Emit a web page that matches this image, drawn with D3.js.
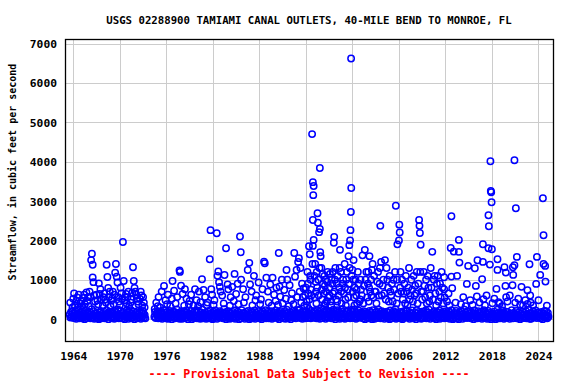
<!DOCTYPE html>
<html><head><meta charset="utf-8">
<script src="https://cdn.jsdelivr.net/npm/d3@7/dist/d3.min.js"></script>
<style>
body{margin:0;background:#fff;}
svg{display:block;}
text{font-family:"DejaVu Sans Mono",monospace;font-weight:bold;}
</style></head>
<body><svg id="c" width="576" height="384"></svg>
<script>
const titleText = "USGS 02288900 TAMIAMI CANAL OUTLETS, 40-MILE BEND TO MONROE, FL";
const yLabel = "Streamflow, in cubic feet per second";
const footText = "---- Provisional Data Subject to Revision ----";
const xTickYears = [1964,1970,1976,1982,1988,1994,2000,2006,2012,2018,2024];
const yTickValues = [0,1000,2000,3000,4000,5000,6000,7000];

// Routine (roughly monthly) low-flow measurements, cfs; rows = years, columns = Jan..Dec
const baseYears = [1963,1964,1965,1966,1967,1968,1969,1970,1971,1972,1973,1974,1975,1976,1977,1978,1979,1980,1981,1982,1983,1984,1985,1986,1987,1988,1989,1990,1991,1992,1993,1994,1995,1996,1997,1998,1999,2000,2001,2002,2003,2004,2005,2006,2007,2008,2009,2010,2011,2012,2013,2014,2015,2016,2017,2018,2019,2020,2021,2022,2023,2024,2025];
const baseFlow = [
[null,null,null,null,null,null,120,40,180,60,210,90],
[30,150,80,200,10,120,60,240,100,20,170,70],
[110,20,190,50,140,0,220,80,30,160,60,130],
[60,180,20,120,250,40,90,200,10,150,80,30],
[140,30,100,0,170,60,210,20,130,90,40,190],
[20,120,60,230,80,150,0,110,190,50,160,30],
[170,50,140,10,200,90,30,160,70,240,20,100],
[40,210,90,150,20,180,60,0,130,80,220,50],
[120,10,180,60,100,230,30,140,50,190,0,90],
[70,160,20,200,120,40,170,80,10,150,60,210],
[150,40,110,20,null,null,null,null,null,null,null,null],
[null,null,null,null,null,60,180,30,140,90,200,20],
[100,30,190,60,150,10,120,230,50,170,80,20],
[50,170,10,130,80,210,40,150,0,110,190,60],
[180,20,120,70,240,30,160,90,10,140,50,200],
[10,140,60,190,30,110,220,50,170,0,130,80],
[130,60,210,0,150,80,30,180,100,40,230,20],
[60,200,30,120,10,170,90,240,20,140,60,110],
[160,10,100,50,190,20,130,70,210,30,150,0],
[30,180,80,220,60,140,10,110,170,50,200,90],
[110,40,170,20,130,250,60,150,0,190,80,30],
[200,70,10,150,90,30,180,40,120,220,10,140],
[40,130,190,60,0,160,100,20,230,70,150,50],
[150,10,90,180,40,120,210,60,0,140,30,190],
[20,170,50,130,220,10,80,160,110,30,200,70],
[90,30,160,0,110,190,40,140,60,230,20,120],
[180,60,20,150,80,40,200,10,130,90,170,50],
[50,220,110,30,170,60,0,150,90,200,40,130],
[140,20,180,70,10,130,240,50,160,30,110,80],
[0,160,60,210,120,40,90,190,20,140,70,230],
[120,50,240,30,160,80,10,200,110,60,180,20],
[70,190,30,140,260,50,120,20,210,90,160,40],
[200,40,150,80,20,230,100,60,180,10,130,270],
[30,140,90,250,50,170,10,220,70,120,40,190],
[160,60,200,20,130,80,240,40,150,0,210,100],
[80,230,40,170,10,120,190,60,260,30,140,50],
[10,120,180,60,220,40,90,150,20,200,70,240],
[190,30,110,240,70,10,160,50,130,220,40,90],
[40,170,60,140,20,200,110,0,180,80,150,30],
[130,20,210,90,160,40,0,230,60,120,10,170],
[60,190,30,120,240,80,150,20,100,200,40,140],
[170,10,140,50,100,190,30,160,70,0,220,90],
[20,150,90,200,40,130,250,10,170,60,110,30],
[110,60,180,20,150,0,90,200,40,130,70,230],
[200,40,120,70,10,170,50,140,220,20,100,60],
[50,160,0,230,90,40,180,110,30,150,10,190],
[140,30,190,60,130,220,20,80,170,50,240,100],
[10,120,70,160,40,100,200,30,140,0,180,60],
[170,50,220,10,130,70,150,40,190,110,20,140],
[80,200,30,140,60,180,10,120,50,230,90,0],
[30,110,160,50,210,20,140,80,0,170,60,120],
[190,60,10,130,90,240,40,160,110,30,200,70],
[60,150,90,20,170,50,130,0,220,80,140,30],
[120,20,200,70,40,150,90,190,10,130,50,230],
[40,180,60,140,10,110,210,30,160,70,0,120],
[150,70,30,190,100,0,130,60,240,20,170,80],
[20,130,170,50,220,80,10,150,40,110,190,60],
[180,40,100,10,140,60,230,90,20,160,70,130],
[60,210,20,120,80,170,40,0,140,100,30,190],
[110,30,160,60,200,20,130,80,50,240,10,150],
[10,140,70,190,40,120,60,220,100,30,170,80],
[160,50,130,20,180,90,0,140,60,210,40,110],
[90,20,160,60,null,null,null,null,null,null,null,null]
];

// Higher measurements [decimal year, cfs]
const obs1963_1973 = [[1963.6,420],[1963.9,300],[1964.0,520],[1964.1,650],[1964.2,350],[1964.4,460],[1964.5,550],[1964.6,300],[1964.7,620],[1964.9,400],[1965.0,450],[1965.1,330],[1965.3,540],[1965.4,620],[1965.5,380],[1965.7,680],[1965.8,460],[1965.9,560],[1966.0,320],[1966.1,700],[1966.2,560],[1966.3,1500],[1966.4,1660],[1966.5,1380],[1966.5,1060],[1966.6,940],[1966.7,600],[1966.8,450],[1967.0,620],[1967.1,480],[1967.2,380],[1967.3,910],[1967.4,640],[1967.5,760],[1967.6,500],[1967.8,340],[1967.9,560],[1968.0,650],[1968.1,500],[1968.2,420],[1968.3,1380],[1968.4,1070],[1968.5,790],[1968.6,560],[1968.7,700],[1968.8,330],[1968.9,470],[1969.0,520],[1969.1,700],[1969.2,380],[1969.3,620],[1969.4,1180],[1969.5,1400],[1969.6,1080],[1969.7,930],[1969.8,560],[1969.9,450],[1970.0,360],[1970.1,800],[1970.2,650],[1970.3,520],[1970.4,1960],[1970.5,970],[1970.6,480],[1970.7,560],[1970.8,640],[1970.9,400],[1971.0,560],[1971.1,700],[1971.2,330],[1971.4,420],[1971.5,500],[1971.6,670],[1971.7,1320],[1971.8,970],[1971.9,790],[1972.0,700],[1972.1,620],[1972.2,520],[1972.3,450],[1972.4,380],[1972.6,515],[1972.7,700],[1972.8,600],[1972.9,340],[1973.0,560],[1973.1,420],[1973.2,300]];
const obs1974_1993 = [[1974.5,260],[1974.7,420],[1974.9,330],[1975.0,560],[1975.2,300],[1975.4,700],[1975.7,845],[1975.9,480],[1976.1,380],[1976.2,620],[1976.5,330],[1976.7,520],[1976.8,970],[1977.0,720],[1977.2,400],[1977.4,560],[1977.7,1240],[1977.75,1200],[1977.9,850],[1978.1,640],[1978.3,340],[1978.4,760],[1978.6,520],[1978.9,380],[1979.0,460],[1979.2,620],[1979.5,350],[1979.7,760],[1979.9,480],[1980.1,330],[1980.2,700],[1980.4,430],[1980.6,1015],[1980.8,740],[1981.0,560],[1981.2,360],[1981.3,420],[1981.6,1520],[1981.7,2260],[1981.8,760],[1981.9,620],[1982.1,360],[1982.2,480],[1982.5,2180],[1982.6,1100],[1982.7,1210],[1982.8,940],[1982.9,820],[1983.0,700],[1983.2,600],[1983.4,400],[1983.5,1120],[1983.7,1800],[1983.9,880],[1984.0,760],[1984.2,340],[1984.3,560],[1984.5,820],[1984.7,460],[1984.8,1150],[1985.0,640],[1985.2,900],[1985.3,380],[1985.5,2100],[1985.6,1700],[1985.65,1000],[1985.9,760],[1986.0,420],[1986.2,560],[1986.5,1250],[1986.7,1430],[1986.8,880],[1987.0,700],[1987.1,350],[1987.3,1100],[1987.5,480],[1987.6,600],[1987.9,930],[1988.1,380],[1988.2,500],[1988.4,760],[1988.6,1460],[1988.7,1420],[1988.9,1050],[1989.1,700],[1989.2,420],[1989.4,880],[1989.6,340],[1989.7,1050],[1989.9,620],[1990.1,460],[1990.2,800],[1990.4,360],[1990.5,1680],[1990.6,830],[1990.7,570],[1990.9,1000],[1991.0,400],[1991.2,740],[1991.4,520],[1991.5,1250],[1991.6,1000],[1991.8,330],[1991.9,860],[1992.1,480],[1992.2,660],[1992.4,380],[1992.5,1680],[1992.6,1080],[1992.8,1250],[1992.9,560],[1993.0,1450],[1993.1,1550],[1993.2,700],[1993.3,1300],[1993.4,420],[1993.5,900],[1993.6,560],[1993.7,780],[1993.8,340],[1993.9,600]];
const obs1994_2005 = [[1994.0,800],[1994.1,450],[1994.15,350],[1994.2,1200],[1994.25,900],[1994.3,650],[1994.4,1850],[1994.45,500],[1994.5,1650],[1994.55,1100],[1994.6,1000],[1994.65,750],[1994.7,600],[1994.8,4700],[1994.85,1400],[1994.9,3480],[1994.9,2520],[1994.95,3150],[1995.0,3380],[1995.0,2010],[1994.9,1860],[1995.1,1100],[1995.15,550],[1995.2,1400],[1995.25,950],[1995.3,700],[1995.35,400],[1995.4,1200],[1995.45,800],[1995.5,2690],[1995.55,2450],[1995.6,1000],[1995.65,600],[1995.7,2210],[1995.75,1300],[1995.8,3840],[1995.8,2290],[1995.85,1700],[1995.9,1600],[1996.0,1300],[1996.05,750],[1996.1,500],[1996.15,1150],[1996.2,900],[1996.3,650],[1996.35,350],[1996.4,1100],[1996.45,850],[1996.5,400],[1996.55,1000],[1996.6,700],[1996.7,450],[1996.75,950],[1996.8,1200],[1996.9,550],[1997.0,800],[1997.05,600],[1997.1,1150],[1997.2,450],[1997.25,350],[1997.3,1000],[1997.4,900],[1997.45,1200],[1997.5,650],[1997.6,1940],[1997.65,2090],[1997.7,700],[1997.75,1000],[1997.8,1300],[1997.9,500],[1998.0,900],[1998.05,450],[1998.1,1100],[1998.2,600],[1998.3,800],[1998.35,1300],[1998.4,1760],[1998.5,1200],[1998.55,700],[1998.6,400],[1998.7,900],[1998.8,1000],[1998.9,650],[1999.0,1400],[1999.05,800],[1999.1,500],[1999.15,350],[1999.2,1000],[1999.3,1200],[1999.4,750],[1999.45,550],[1999.5,1600],[1999.55,900],[1999.6,1880],[1999.65,1300],[1999.7,2000],[1999.75,2260],[1999.8,2720],[1999.85,3330],[1999.83,6620],[1999.9,1100],[2000.0,1250],[2000.05,700],[2000.1,1000],[2000.15,1500],[2000.2,550],[2000.25,350],[2000.3,800],[2000.4,1000],[2000.5,600],[2000.55,750],[2000.6,400],[2000.7,1200],[2000.8,900],[2000.9,450],[2001.0,500],[2001.05,1000],[2001.1,750],[2001.2,600],[2001.3,1620],[2001.4,400],[2001.5,850],[2001.6,1760],[2001.7,1000],[2001.8,1200],[2001.9,550],[2002.0,900],[2002.05,1200],[2002.1,450],[2002.15,800],[2002.2,1600],[2002.3,700],[2002.4,1000],[2002.45,600],[2002.5,1250],[2002.6,1400],[2002.7,550],[2002.8,1100],[2002.9,700],[2003.0,700],[2003.1,400],[2003.2,950],[2003.3,1200],[2003.4,600],[2003.5,900],[2003.55,1300],[2003.6,2370],[2003.7,1450],[2003.8,600],[2003.9,850],[2004.0,1000],[2004.1,650],[2004.2,1500],[2004.3,500],[2004.4,1300],[2004.5,1000],[2004.6,800],[2004.7,450],[2004.8,1100],[2004.9,700],[2005.0,600],[2005.1,900],[2005.2,450],[2005.3,1000],[2005.4,750],[2005.5,1200],[2005.6,2880],[2005.7,400],[2005.75,1000],[2005.8,1900],[2005.9,650]];
const obs2006_2025 = [[2006.0,2000],[2006.05,2400],[2006.1,2200],[2006.15,800],[2006.2,1200],[2006.3,700],[2006.4,1000],[2006.5,500],[2006.6,650],[2006.7,900],[2006.8,400],[2006.9,1100],[2007.0,700],[2007.1,350],[2007.2,800],[2007.3,1300],[2007.4,500],[2007.5,600],[2007.6,1000],[2007.7,750],[2007.8,450],[2007.9,1100],[2008.0,600],[2008.1,850],[2008.2,650],[2008.3,1200],[2008.4,400],[2008.5,900],[2008.6,2520],[2008.65,2370],[2008.7,2190],[2008.75,1200],[2008.8,1890],[2008.9,700],[2009.0,500],[2009.1,700],[2009.2,1200],[2009.3,850],[2009.4,550],[2009.5,1000],[2009.6,400],[2009.7,1100],[2009.8,800],[2009.9,450],[2010.0,600],[2010.1,1300],[2010.2,800],[2010.3,1710],[2010.4,500],[2010.5,1000],[2010.6,1100],[2010.7,650],[2010.8,350],[2010.9,900],[2011.0,1100],[2011.1,450],[2011.2,700],[2011.3,900],[2011.4,550],[2011.5,1200],[2011.6,800],[2011.7,400],[2011.83,1066],[2011.83,761],[2011.9,550],[2012.2,450],[2012.4,650],[2012.5,350],[2012.77,2614],[2012.68,1810],[2012.77,1081],[2012.87,787],[2013.07,1716],[2013.3,420],[2013.5,1099],[2013.73,2013],[2013.73,1708],[2013.8,1437],[2014.0,380],[2014.3,560],[2014.6,330],[2014.76,896],[2014.93,1353],[2015.2,480],[2015.5,360],[2015.79,1294],[2015.92,845],[2016.05,574],[2016.13,1497],[2016.4,420],[2016.73,1015],[2016.83,1454],[2016.83,1904],[2016.9,508],[2017.1,350],[2017.3,600],[2017.55,1802],[2017.55,2640],[2017.6,2360],[2017.73,1386],[2017.8,4010],[2017.85,3256],[2017.9,3223],[2017.95,2970],[2017.99,1777],[2018.06,406],[2018.3,520],[2018.58,769],[2018.71,1523],[2018.71,1251],[2018.84,431],[2019.0,400],[2019.3,330],[2019.61,1320],[2019.74,845],[2019.79,1183],[2019.83,558],[2020.0,450],[2020.3,600],[2020.65,863],[2020.7,1320],[2020.74,1124],[2020.9,4036],[2020.9,1371],[2021.0,420],[2021.08,2817],[2021.21,1581],[2021.4,520],[2021.64,363],[2021.81,820],[2022.0,350],[2022.3,480],[2022.58,736],[2022.58,388],[2022.84,1396],[2022.93,600],[2023.0,420],[2023.3,350],[2023.7,896],[2023.8,1581],[2024.0,480],[2024.22,1124],[2024.57,3071],[2024.65,2132],[2024.65,1404],[2024.86,1353],[2024.9,954],[2024.99,193],[2025.08,345],[2025.16,66]];

const svg = d3.select("#c");
const L = 65, R = 554, T = 39, B = 342;
const x = d3.scaleLinear().domain([1962.93, 2026.0]).range([L, R]);
const y = d3.scaleLinear().domain([-580, 7115]).range([B, T]);

// grid
const grid = svg.append("g");
grid.selectAll("line.gx").data(xTickYears).join("line")
  .attr("x1", d => Math.round(x(d)) + 0.5).attr("x2", d => Math.round(x(d)) + 0.5)
  .attr("y1", T).attr("y2", B).attr("stroke", "#cccccc").attr("stroke-width", 1);
grid.selectAll("line.gy").data(yTickValues).join("line")
  .attr("y1", d => Math.round(y(d)) + 0.5).attr("y2", d => Math.round(y(d)) + 0.5)
  .attr("x1", L).attr("x2", R).attr("stroke", "#cccccc").attr("stroke-width", 1);

// points
const pts = [];
baseYears.forEach((yr, i) => baseFlow[i].forEach((v, m) => { if (v !== null) pts.push([yr + (m + 0.5) / 12, v]); }));
[obs1963_1973, obs1974_1993, obs1994_2005, obs2006_2025].forEach(a => a.forEach(p => pts.push(p)));
svg.append("g").selectAll("circle").data(pts).join("circle")
  .attr("cx", d => x(d[0])).attr("cy", d => y(d[1])).attr("r", 3.2)
  .attr("fill", "none").attr("stroke", "#0000ff").attr("stroke-width", 1.5);

// frame
svg.append("rect").attr("x", L + 0.5).attr("y", T + 0.5).attr("width", R - L - 1).attr("height", B - T - 1)
  .attr("fill", "none").attr("stroke", "#000").attr("stroke-width", 1.3);

// axes labels
const xAxis = d3.axisBottom(x).tickValues(xTickYears).tickFormat(d3.format("d")).tickSize(0).tickPadding(0);
const gx = svg.append("g").attr("transform", `translate(0,${B})`).call(xAxis);
gx.select(".domain").remove();
gx.selectAll("text").attr("y", 18).attr("dy", null).attr("font-size", "11.3px").attr("fill", "#000")
  .style("font-family", "'DejaVu Sans Mono',monospace").style("font-weight", "bold");

const yAxis = d3.axisLeft(y).tickValues(yTickValues).tickFormat(d3.format("d")).tickSize(0).tickPadding(0);
const gy = svg.append("g").attr("transform", `translate(${L - 8},0)`).call(yAxis);
gy.select(".domain").remove();
gy.selectAll("text").attr("x", 0).attr("dy", "0.36em").attr("font-size", "11.3px").attr("fill", "#000")
  .style("font-family", "'DejaVu Sans Mono',monospace").style("font-weight", "bold");

svg.append("text").attr("x", 309).attr("y", 24).attr("text-anchor", "middle")
  .attr("font-size", "10.7px").attr("fill", "#000").text(titleText);
svg.append("text").attr("transform", "translate(16,172) rotate(-90)").attr("text-anchor", "middle")
  .attr("font-size", "10px").attr("fill", "#000").text(yLabel);
svg.append("text").attr("x", 309).attr("y", 378).attr("text-anchor", "middle")
  .attr("font-size", "11.6px").attr("fill", "#ff0000").text(footText);
</script></body></html>
